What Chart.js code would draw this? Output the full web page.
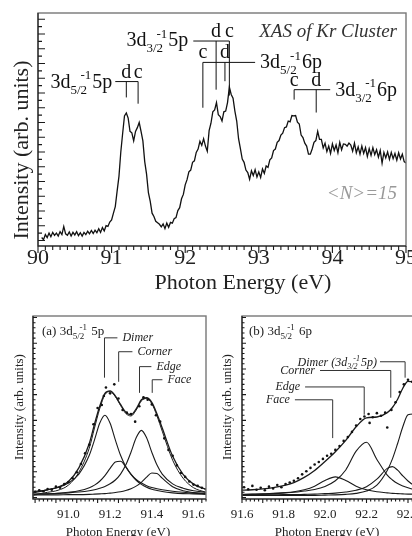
<!DOCTYPE html>
<html>
<head>
<meta charset="utf-8">
<script src="https://cdn.jsdelivr.net/npm/chart.js@4.4.1/dist/chart.umd.min.js"></script>
<style>
    html, body { margin: 0; padding: 0; background: #fff; width: 412px; height: 536px; overflow: hidden; }
    canvas { position: absolute; display: block; }
</style>
</head>
<body>
<canvas id="xasChart" width="412" height="300" style="left:0;top:0"></canvas>
<canvas id="fitA" width="212" height="250" style="left:0;top:300px"></canvas>
<canvas id="fitB" width="250" height="250" style="left:210px;top:300px"></canvas>
<script>
/* ============================================
   XAS of Kr clusters — spectrum + two fits
   ============================================ */

// ---- top panel: measured spectrum ----
const energy = [
    90.05, 90.075, 90.1, 90.125, 90.15, 90.175, 90.2, 90.225, 90.25, 90.275,
    90.3, 90.325, 90.35, 90.375, 90.4, 90.425, 90.45, 90.475, 90.5, 90.525,
    90.55, 90.575, 90.6, 90.625, 90.65, 90.675, 90.7, 90.725, 90.75, 90.775,
    90.8, 90.825, 90.85, 90.875, 90.9, 90.925, 90.95, 90.975, 91, 91.025,
    91.05, 91.075, 91.1, 91.125, 91.15, 91.175, 91.2, 91.225, 91.25, 91.275,
    91.3, 91.325, 91.35, 91.375, 91.4, 91.425, 91.45, 91.475, 91.5, 91.525,
    91.55, 91.575, 91.6, 91.625, 91.65, 91.675, 91.7, 91.725, 91.75, 91.775,
    91.8, 91.825, 91.85, 91.875, 91.9, 91.925, 91.95, 91.975, 92, 92.025,
    92.05, 92.075, 92.1, 92.125, 92.15, 92.175, 92.2, 92.225, 92.25, 92.275,
    92.3, 92.325, 92.35, 92.375, 92.4, 92.425, 92.45, 92.475, 92.5, 92.525,
    92.55, 92.575, 92.6, 92.625, 92.65, 92.675, 92.7, 92.725, 92.75, 92.775,
    92.8, 92.825, 92.85, 92.875, 92.9, 92.925, 92.95, 92.975, 93, 93.025,
    93.05, 93.075, 93.1, 93.125, 93.15, 93.175, 93.2, 93.225, 93.25, 93.275,
    93.3, 93.325, 93.35, 93.375, 93.4, 93.425, 93.45, 93.475, 93.5, 93.525,
    93.55, 93.575, 93.6, 93.625, 93.65, 93.675, 93.7, 93.725, 93.75, 93.775,
    93.8, 93.825, 93.85, 93.875, 93.9, 93.925, 93.95, 93.975, 94, 94.025,
    94.05, 94.075, 94.1, 94.125, 94.15, 94.175, 94.2, 94.225, 94.25, 94.275,
    94.3, 94.325, 94.35, 94.375, 94.4, 94.425, 94.45, 94.475, 94.5, 94.525,
    94.55, 94.575, 94.6, 94.625, 94.65, 94.675, 94.7, 94.725, 94.75, 94.775,
    94.8, 94.825, 94.85, 94.875, 94.9, 94.925, 94.95, 94.975, 95
];
const intensity = [
    0.68, 0.62, 0.76, 0.68, 0.80, 0.70, 0.82, 0.74, 0.80, 0.72,
    0.84, 0.76, 0.98, 0.78, 0.74, 0.83, 0.72, 0.82, 0.75, 0.84,
    0.73, 0.81, 0.72, 0.82, 0.76, 0.85, 0.78, 0.87, 0.79, 0.88,
    0.81, 0.92, 0.82, 0.95, 0.86, 1.00, 0.98, 1.10, 1.16, 1.34,
    1.52, 1.94, 2.34, 3.00, 3.50, 3.98, 4.06, 3.92, 3.56, 3.52,
    3.30, 3.56, 3.66, 3.80, 3.56, 3.30, 2.74, 2.40, 1.90, 1.66,
    1.34, 1.25, 1.12, 1.08, 1.04, 0.97, 1.05, 0.92, 1.07, 0.96,
    1.09, 1.07, 1.19, 1.22, 1.41, 1.49, 1.73, 1.85, 2.11, 2.25,
    2.46, 2.51, 2.72, 2.76, 2.99, 3.08, 3.29, 3.18, 3.36, 3.16,
    3.02, 3.58, 3.78, 4.09, 4.14, 4.34, 4.01, 3.96, 3.84, 4.09,
    4.11, 4.34, 4.76, 4.56, 4.46, 4.11, 3.84, 3.36, 3.09, 2.81,
    2.72, 2.51, 2.44, 2.26, 2.49, 2.36, 2.52, 2.32, 2.46, 2.31,
    2.54, 2.42, 2.62, 2.58, 2.79, 2.84, 3.04, 3.08, 3.26, 3.31,
    3.46, 3.51, 3.66, 3.68, 3.84, 3.82, 3.99, 3.98, 3.99, 3.81,
    3.76, 3.46, 3.39, 3.24, 3.16, 2.94, 2.94, 3.08, 3.26, 3.31,
    3.56, 3.34, 3.34, 3.11, 3.24, 3.01, 3.16, 2.96, 3.22, 3.04,
    3.19, 2.98, 3.26, 3.06, 3.22, 3.21, 3.16, 3.24, 3.19, 3.02,
    3.24, 2.98, 3.14, 2.94, 3.16, 2.96, 3.12, 2.88, 3.09, 2.91,
    3.12, 2.93, 3.06, 2.86, 3.04, 2.70, 2.99, 2.84, 3.00, 2.80,
    2.99, 2.82, 2.96, 2.78, 2.98, 2.81, 2.94, 2.74, 2.70
];
const energyTicks = [90, 91, 92, 93, 94, 95];

// peak assignments (eV): dimer / cluster
const assign52_5p = [91.20, 91.36];   // d, c
const assign32_5p = [92.42, 92.60];   // d, c
const assign52_6p = [92.24, 92.54];   // c, d
const assign32_6p = [93.48, 93.78];   // c, d

// ---- panel (a): 3d5/2 -> 5p fit ----
const fitEnergyA = [90.83, 90.9, 90.95, 91.0, 91.05, 91.1, 91.125, 91.15, 91.175, 91.2, 91.225, 91.25,
                    91.275, 91.3, 91.325, 91.35, 91.375, 91.4, 91.425, 91.45, 91.5, 91.55, 91.6, 91.66];
const totalA  = [1.18, 1.30, 1.40, 1.62, 2.15, 3.10, 3.85, 4.55, 5.05, 5.15, 4.95, 4.62,
                 4.32, 4.22, 4.45, 4.80, 4.88, 4.70, 4.25, 3.70, 2.60, 1.90, 1.52, 1.32];
const sumA    = [1.10, 1.20, 1.28, 1.48, 1.98, 2.92, 3.70, 4.45, 5.00, 5.12, 4.92, 4.58,
                 4.27, 4.17, 4.40, 4.76, 4.85, 4.65, 4.17, 3.58, 2.45, 1.75, 1.38, 1.20];
const dimerA  = [1.22, 1.30, 1.39, 1.56, 1.91, 2.64, 3.24, 3.89, 4.20, 3.89, 3.24, 2.64,
                 2.20, 1.91, 1.70, 1.56, 1.46, 1.39, 1.34, 1.30, 1.24, 1.20, 1.17, 1.15];
const cornerA = [1.12, 1.14, 1.16, 1.20, 1.26, 1.38, 1.48, 1.63, 1.85, 2.13, 2.38, 2.41,
                 2.19, 1.90, 1.67, 1.51, 1.40, 1.32, 1.27, 1.23, 1.18, 1.15, 1.14, 1.12];
const edgeA   = [1.13, 1.14, 1.16, 1.18, 1.21, 1.26, 1.30, 1.36, 1.43, 1.53, 1.68, 1.91,
                 2.26, 2.76, 3.32, 3.61, 3.32, 2.76, 2.26, 1.91, 1.53, 1.36, 1.26, 1.20];
const faceA   = [1.09, 1.10, 1.10, 1.11, 1.11, 1.12, 1.13, 1.14, 1.15, 1.17, 1.19, 1.22,
                 1.27, 1.34, 1.44, 1.59, 1.79, 1.95, 1.93, 1.75, 1.42, 1.26, 1.19, 1.15];
const pointEnergyA = [90.84, 90.86, 90.88, 90.90, 90.92, 90.94, 90.96, 90.98, 91.00, 91.02, 91.04,
                      91.06, 91.08, 91.10, 91.12, 91.14, 91.16, 91.17, 91.18, 91.20, 91.22, 91.24,
                      91.26, 91.28, 91.30, 91.32, 91.34, 91.36, 91.38, 91.40, 91.42, 91.44, 91.46,
                      91.48, 91.50, 91.52, 91.54, 91.56, 91.58, 91.60, 91.62, 91.64, 91.66];
const pointValueA  = [1.22, 1.28, 1.24, 1.33, 1.30, 1.42, 1.38, 1.52, 1.60, 1.75, 1.98,
                      2.30, 2.72, 3.05, 3.85, 4.48, 4.60, 4.95, 5.28, 5.05, 5.40, 4.85,
                      4.40, 4.30, 4.25, 3.95, 4.55, 4.90, 4.80, 4.62, 4.20, 3.95, 3.30,
                      2.85, 2.62, 2.25, 1.95, 1.80, 1.62, 1.50, 1.45, 1.38, 1.32];
const ticksA = [91.0, 91.2, 91.4, 91.6];
const markA  = [91.173, 91.241, 91.341, 91.402];   // Dimer, Corner, Edge, Face

// ---- panel (b): 3d5/2 -> 6p fit ----
const fitEnergyB = [91.59, 91.65, 91.7, 91.75, 91.8, 91.85, 91.9, 91.95, 92.0, 92.05, 92.1, 92.15,
                    92.2, 92.25, 92.3, 92.325, 92.35, 92.375, 92.4, 92.425, 92.45, 92.5, 92.55];
const totalB  = [1.28, 1.30, 1.33, 1.38, 1.46, 1.58, 1.78, 2.05, 2.40, 2.78, 3.22, 3.75,
                 4.10, 4.13, 4.30, 4.50, 4.82, 5.25, 5.52, 5.50, 5.25, 4.50, 3.60];
const faceB   = [1.11, 1.12, 1.13, 1.15, 1.18, 1.22, 1.30, 1.44, 1.66, 1.80, 1.66, 1.44,
                 1.30, 1.22, 1.18, 1.16, 1.15, 1.14, 1.13, 1.13, 1.12, 1.11, 1.11];
const edgeB   = [1.12, 1.13, 1.14, 1.16, 1.18, 1.20, 1.25, 1.31, 1.43, 1.65, 2.07, 2.80,
                 3.15, 2.48, 1.87, 1.68, 1.54, 1.45, 1.38, 1.32, 1.28, 1.23, 1.19];
const cornerB = [1.09, 1.10, 1.10, 1.10, 1.11, 1.11, 1.12, 1.13, 1.15, 1.17, 1.21, 1.28,
                 1.42, 1.71, 2.13, 2.20, 2.06, 1.84, 1.64, 1.49, 1.39, 1.26, 1.20];
const dimerB  = [1.08, 1.08, 1.08, 1.08, 1.08, 1.08, 1.08, 1.08, 1.09, 1.10, 1.12, 1.16,
                 1.25, 1.48, 2.05, 2.50, 3.10, 3.75, 4.22, 4.25, 3.95, 3.00, 2.10];
const pointEnergyB = [91.61, 91.63, 91.65, 91.67, 91.69, 91.71, 91.73, 91.75, 91.77, 91.79, 91.81,
                      91.83, 91.85, 91.87, 91.89, 91.91, 91.93, 91.95, 91.97, 91.99, 92.01, 92.03,
                      92.05, 92.07, 92.09, 92.11, 92.13, 92.15, 92.17, 92.19, 92.21, 92.215, 92.23,
                      92.25, 92.27, 92.29, 92.30, 92.32, 92.34, 92.36, 92.38, 92.40, 92.42, 92.44, 92.46];
const pointValueB  = [1.40, 1.32, 1.45, 1.30, 1.38, 1.28, 1.42, 1.35, 1.48, 1.40, 1.52,
                      1.58, 1.65, 1.75, 1.90, 2.02, 2.15, 2.28, 2.38, 2.50, 2.62, 2.70,
                      2.85, 3.00, 3.20, 3.35, 3.55, 3.80, 4.05, 4.15, 4.25, 3.90, 4.12,
                      4.28, 4.18, 4.30, 3.72, 4.40, 4.70, 5.10, 5.40, 5.58, 5.50, 5.30, 5.00];
const ticksB = [91.6, 91.8, 92.0, 92.2, 92.4];
const markB  = [92.386, 92.317, 92.189, 92.037];   // Dimer, Corner, Edge, Face

const serif = "'Liberation Serif', 'Times New Roman', serif";

// text with a stacked sub/superscript: parts = ['3d', ['5/2', '-1'], '5p']
function drawRich(ctx, parts, x, y, size, align, italic) {
    const style = italic ? 'italic ' : '';
    const main = style + size + 'px ' + serif;
    const mini = style + Math.round(size * 0.66) + 'px ' + serif;
    const items = [];
    let w = 0;
    parts.forEach(p => {
        if (typeof p === 'string') {
            ctx.font = main;
            items.push({ t: p, font: main, dx: w, dy: 0 });
            w += ctx.measureText(p).width;
        } else {
            ctx.font = mini;
            const sw = ctx.measureText(p[0]).width;
            const uw = ctx.measureText(p[1]).width;
            items.push({ t: p[0], font: mini, dx: w, dy: size * 0.3 });
            items.push({ t: p[1], font: mini, dx: w + sw * 0.6, dy: -size * 0.42 });
            w += Math.max(sw, sw * 0.6 + uw) + 1;
        }
    });
    const x0 = align === 'right' ? x - w : x;
    ctx.textAlign = 'left';
    ctx.textBaseline = 'alphabetic';
    items.forEach(it => { ctx.font = it.font; ctx.fillText(it.t, x0 + it.dx, y + it.dy); });
}

function axisTitles(ctx, text, size, yPos, xPos) {
    ctx.save();
    ctx.fillStyle = '#222';
    ctx.font = size + 'px ' + serif;
    ctx.textAlign = 'center';
    ctx.textBaseline = 'middle';
    ctx.fillText(text, xPos[0], xPos[1]);
    ctx.translate(yPos[0], yPos[1]);
    ctx.rotate(-Math.PI / 2);
    ctx.fillText('Intensity (arb. units)', 0, 0);
    ctx.restore();
}

// frame + minor/major ticks (left ticks point in, bottom ticks point out)
function makeFrame(cfg) {
    return {
        id: 'frame',
        afterDraw(chart) {
            const { ctx, chartArea: a, scales: { x, y } } = chart;
            ctx.save();
            ctx.strokeStyle = '#777';
            ctx.lineWidth = 1.4;
            ctx.strokeRect(a.left, a.top, a.right - a.left, a.bottom - a.top);
            ctx.strokeStyle = '#1a1a1a';
            ctx.lineWidth = 1.1;
            ctx.beginPath();
            ctx.moveTo(a.left, a.top);
            ctx.lineTo(a.left, a.bottom);
            ctx.lineTo(a.right, a.bottom);
            for (let i = 0; ; i++) {
                const v = cfg.xFrom + i * cfg.xStep;
                if (v > x.max + 1e-9) break;
                const major = i % cfg.xEvery === 0;
                const p = x.getPixelForValue(v);
                ctx.moveTo(p, a.bottom);
                ctx.lineTo(p, a.bottom + (major ? cfg.long : cfg.short));
            }
            for (let i = 0; ; i++) {
                const v = cfg.yFrom + i * cfg.yStep;
                if (v > y.max + 1e-9) break;
                const major = i % cfg.yEvery === 0;
                const p = y.getPixelForValue(v);
                ctx.moveTo(a.left, p);
                ctx.lineTo(a.left + (major ? cfg.long : cfg.short), p);
            }
            ctx.stroke();
            ctx.restore();
        }
    };
}

function xyPoints(xs, ys) {
    return xs.map((v, i) => ({ x: v, y: ys[i] }));
}

function curve(xs, ys, width) {
    return {
        data: xyPoints(xs, ys),
        borderColor: '#1a1a1a',
        borderWidth: width,
        pointRadius: 0,
        cubicInterpolationMode: 'monotone',
        fill: false
    };
}

function dots(xs, ys) {
    return {
        data: xyPoints(xs, ys),
        showLine: false,
        pointRadius: 1.3,
        pointBorderWidth: 0,
        pointBackgroundColor: '#111'
    };
}

function buildOptions(c) {
    return {
        responsive: false,
        animation: false,
        events: [],
        layout: { padding: { top: c.top, right: c.right, left: 0, bottom: 0 } },
        plugins: { legend: { display: false }, tooltip: { enabled: false } },
        scales: {
            x: {
                type: 'linear',
                min: c.xMin,
                max: c.xMax,
                afterBuildTicks: s => { s.ticks = c.ticks.map(v => ({ value: v })); },
                afterFit: s => { s.height = c.xHeight; s.paddingLeft = 0; s.paddingRight = 0; },
                grid: { display: false, drawTicks: false },
                border: { display: false },
                ticks: {
                    color: '#222',
                    font: { family: serif, size: c.font, lineHeight: 1 },
                    padding: c.pad,
                    maxRotation: 0,
                    autoSkip: false,
                    callback: v => c.fmt(v)
                }
            },
            y: {
                min: c.yMin,
                max: c.yMax,
                afterFit: s => { s.width = c.yWidth; s.paddingTop = 0; s.paddingBottom = 0; },
                grid: { display: false },
                border: { display: false },
                ticks: { display: false }
            }
        }
    };
}

// ---------- top: XAS spectrum ----------
const topNotes = {
    id: 'topNotes',
    afterDraw(chart) {
        const { ctx, chartArea: a, scales: { x, y } } = chart;
        const X = v => x.getPixelForValue(v);
        const Y = v => y.getPixelForValue(v);
        ctx.save();
        ctx.strokeStyle = '#111';
        ctx.fillStyle = '#111';
        ctx.lineWidth = 1;

        const bracket = (from, to, level, drops, letters) => {
            ctx.beginPath();
            ctx.moveTo(X(from), Y(level));
            ctx.lineTo(X(to), Y(level));
            drops.forEach(([e, end]) => {
                ctx.moveTo(X(e), Y(level));
                ctx.lineTo(X(e), Y(end));
            });
            ctx.stroke();
            ctx.font = '20px ' + serif;
            ctx.textAlign = 'center';
            ctx.textBaseline = 'alphabetic';
            letters.forEach((l, i) => ctx.fillText(l, X(drops[i][0]), Y(level) - 4));
        };

        bracket(91.05, assign52_5p[1], 4.91, [[assign52_5p[0], 4.48], [assign52_5p[1], 4.31]], ['d', 'c']);
        bracket(92.11, assign32_5p[1], 6.01, [[assign32_5p[0], 4.69], [assign32_5p[1], 4.53]], ['d', 'c']);
        bracket(assign52_6p[0], 92.95, 5.43, [[assign52_6p[0], 4.20], [assign52_6p[1], 4.92]], ['c', 'd']);
        bracket(assign32_6p[0], 93.97, 4.69, [[assign32_6p[0], 4.42], [assign32_6p[1], 4.07]], ['c', 'd']);

        drawRich(ctx, ['3d', ['5/2', '-1'], '5p'], X(91.05) - 3, Y(4.91) + 6, 20, 'right');
        drawRich(ctx, ['3d', ['3/2', '-1'], '5p'], X(92.11) - 5, Y(6.01) + 5, 20, 'right');
        drawRich(ctx, ['3d', ['5/2', '-1'], '6p'], X(92.95) + 5, Y(5.43) + 6, 20, 'left');
        drawRich(ctx, ['3d', ['3/2', '-1'], '6p'], X(93.97) + 5, Y(4.69) + 6, 20, 'left');

        ctx.font = 'italic 19px ' + serif;
        ctx.textAlign = 'right';
        ctx.fillStyle = '#333';
        ctx.fillText('XAS of Kr Cluster', a.right - 9, a.top + 24);
        ctx.fillStyle = '#999';
        ctx.fillText('<N>=15', a.right - 9, Y(1.73));
        ctx.restore();

        axisTitles(ctx, 'Photon Energy (eV)', 22, [22, 150], [243, 283]);
    }
};

new Chart(document.getElementById('xasChart'), {
    type: 'line',
    data: {
        datasets: [{
            data: xyPoints(energy, intensity),
            borderColor: '#111',
            borderWidth: 1.3,
            pointRadius: 0,
            tension: 0
        }]
    },
    options: buildOptions({
        top: 13, right: 6, xMin: 90, xMax: 95, ticks: energyTicks, xHeight: 54,
        font: 22, pad: 1, fmt: v => String(v), yMin: 0.45, yMax: 6.77, yWidth: 38
    }),
    plugins: [
        makeFrame({ xFrom: 90, xStep: 0.1, xEvery: 10, yFrom: 0.6, yStep: 0.2, yEvery: 2, long: 7, short: 4 }),
        topNotes
    ]
});

// ---------- bottom-left: (a) ----------
function componentNote(ctx, X, Y, name, at, yTop, yEnd, to, side) {
    ctx.beginPath();
    ctx.moveTo(X(at), Y(yEnd));
    ctx.lineTo(X(at), Y(yTop));
    ctx.lineTo(X(to), Y(yTop));
    ctx.stroke();
    if (typeof name === 'string') {
        ctx.font = 'italic 12px ' + serif;
        ctx.textBaseline = 'middle';
        ctx.textAlign = side === 'left' ? 'left' : 'right';
        ctx.fillText(name, X(to) + (side === 'left' ? 5 : -5), Y(yTop));
    } else {
        drawRich(ctx, name, X(to) - 3, Y(yTop) + 4, 12, 'right', true);
    }
}

const notesA = {
    id: 'notesA',
    afterDraw(chart) {
        const { ctx, chartArea: a, scales: { x, y } } = chart;
        const X = v => x.getPixelForValue(v);
        const Y = v => y.getPixelForValue(v);
        ctx.save();
        ctx.strokeStyle = '#333';
        ctx.fillStyle = '#222';
        ctx.lineWidth = 1;
        componentNote(ctx, X, Y, 'Dimer', markA[0], 7.21, 5.66, 91.235, 'left');
        componentNote(ctx, X, Y, 'Corner', markA[1], 6.67, 5.50, 91.307, 'left');
        componentNote(ctx, X, Y, 'Edge', markA[2], 6.09, 5.07, 91.398, 'left');
        componentNote(ctx, X, Y, 'Face', markA[3], 5.58, 5.07, 91.451, 'left');
        drawRich(ctx, ['(a) 3d', ['5/2', '-1'], ' 5p'], a.left + 9, a.top + 19, 13, 'left');
        ctx.restore();
        axisTitles(ctx, 'Photon Energy (eV)', 13, [20, 107], [118, 233]);
    }
};

new Chart(document.getElementById('fitA'), {
    type: 'line',
    data: {
        datasets: [
            dots(pointEnergyA, pointValueA),
            curve(fitEnergyA, totalA, 1.3),
            curve(fitEnergyA, sumA, 1),
            curve(fitEnergyA, dimerA, 1.1),
            curve(fitEnergyA, cornerA, 1.1),
            curve(fitEnergyA, edgeA, 1.1),
            curve(fitEnergyA, faceA, 1.1)
        ]
    },
    options: buildOptions({
        top: 16, right: 6, xMin: 90.83, xMax: 91.66, ticks: ticksA, xHeight: 51,
        font: 13, pad: 9, fmt: v => v.toFixed(1), yMin: 0.94, yMax: 8.06, yWidth: 33
    }),
    plugins: [
        makeFrame({ xFrom: 90.84, xStep: 0.02, xEvery: 5, yFrom: 1.0, yStep: 0.2, yEvery: 5, long: 4, short: 2.5 }),
        notesA
    ]
});

// ---------- bottom-right: (b) ----------
const notesB = {
    id: 'notesB',
    afterDraw(chart) {
        const { ctx, chartArea: a, scales: { x, y } } = chart;
        const X = v => x.getPixelForValue(v);
        const Y = v => y.getPixelForValue(v);
        ctx.save();
        ctx.strokeStyle = '#333';
        ctx.fillStyle = '#222';
        ctx.lineWidth = 1;
        componentNote(ctx, X, Y, ['Dimer (3d', ['3/2', '-1'], '5p)'], markB[0], 6.28, 5.66, 92.265, 'right');
        componentNote(ctx, X, Y, 'Corner', markB[1], 5.94, 4.88, 91.976, 'right');
        componentNote(ctx, X, Y, 'Edge', markB[2], 5.30, 4.22, 91.904, 'right');
        componentNote(ctx, X, Y, 'Face', markB[3], 4.80, 3.31, 91.855, 'right');
        drawRich(ctx, ['(b) 3d', ['5/2', '-1'], ' 6p'], a.left + 7, a.top + 19, 13, 'left');
        ctx.restore();
        axisTitles(ctx, 'Photon Energy (eV)', 13, [18, 107], [117, 233]);
    }
};

new Chart(document.getElementById('fitB'), {
    type: 'line',
    data: {
        datasets: [
            dots(pointEnergyB, pointValueB),
            curve(fitEnergyB, totalB, 1.3),
            curve(fitEnergyB, faceB, 1.1),
            curve(fitEnergyB, edgeB, 1.1),
            curve(fitEnergyB, cornerB, 1.1),
            curve(fitEnergyB, dimerB, 1.1)
        ]
    },
    options: buildOptions({
        top: 16, right: 10.5, xMin: 91.6, xMax: 92.6, ticks: ticksB, xHeight: 51,
        font: 13, pad: 9, fmt: v => v.toFixed(1), yMin: 0.94, yMax: 8.06, yWidth: 32
    }),
    plugins: [
        makeFrame({ xFrom: 91.6, xStep: 0.02, xEvery: 5, yFrom: 1.0, yStep: 0.2, yEvery: 5, long: 4, short: 2.5 }),
        notesB
    ]
});
</script>
</body>
</html>
